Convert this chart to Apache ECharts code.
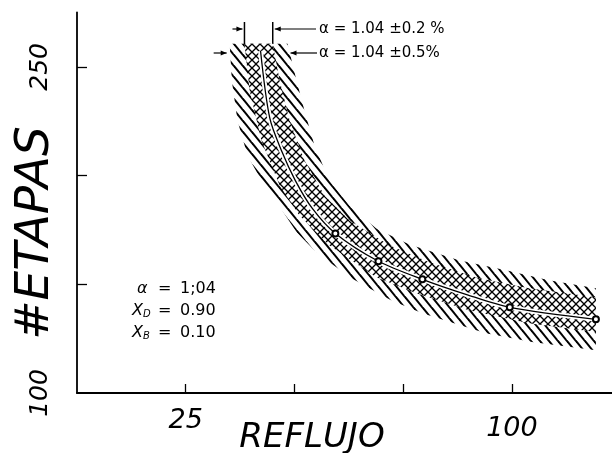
<!DOCTYPE html>
<html>
<head>
<meta charset="utf-8">
<script src="https://cdn.jsdelivr.net/npm/echarts@6/dist/echarts.min.js"></script>
<style>
  html, body { margin: 0; padding: 0; background: #fff; }
  #chart { width: 612px; height: 453px; }
</style>
</head>
<body>
<div id="chart"></div>
<script>
// Number of stages versus reflux for alpha = 1.04, xD = 0.90, xB = 0.10
const refluxValues = [42.2, 44.3, 47.0, 50.2, 54.1, 59.4, 69.3, 79.4, 89.4, 99.5, 119.3];
const stageValues  = [257.3, 226.6, 211.5, 197.7, 184.9, 173.4, 160.6, 152.3, 145.4, 139.4, 133.9];
// points drawn with a small open circle
const circledPoints = [false, false, false, false, false, true, true, true, false, true, true];

// band for alpha = 1.04 +/- 0.5 %  ([reflux, stages] along each edge)
const outerUpper = [[48.4, 260.6], [50.2, 245.9], [52.3, 229.8], [54.6, 213.8], [58.0, 197.7], [62.6, 186.2],
                    [68.8, 175.7], [76.4, 168.3], [87.8, 161.0], [98.6, 156.4], [108.5, 151.8], [119.3, 148.2]];
const outerLower = [[35.1, 260.6], [35.6, 243.6], [36.9, 225.2], [39.2, 209.2], [42.4, 197.7], [46.1, 187.2],
                    [50.5, 173.9], [55.3, 164.2], [63.1, 152.8], [72.2, 142.7], [79.4, 136.7], [94.0, 127.5],
                    [104.6, 123.4], [119.3, 119.7]];
// band for alpha = 1.04 +/- 0.2 %
const innerUpper = [[45.0, 260.6], [46.6, 243.6], [48.9, 225.2], [52.3, 206.9], [56.9, 190.8], [62.6, 179.4],
                    [71.8, 167.9], [81.0, 160.1], [92.4, 152.8], [103.9, 148.2], [119.3, 144.0]];
const innerLower = [[38.5, 260.6], [39.7, 239.0], [42.4, 216.1], [46.6, 195.4], [51.1, 181.7], [58.0, 167.9],
                    [68.8, 153.2], [78.0, 145.9], [90.1, 138.1], [103.9, 132.1], [119.3, 128.0]];

const xTickValues = [25, 50, 75, 100];
const xLabelValues = [25, 100];
const yTickValues = [150, 200, 250];
const yLabelValues = [100, 250];

const bandLabels = ['α = 1.04 ±0.2 %', 'α = 1.04 ±0.5%'];
const paramLines = [['α', '', '1;04'], ['X', 'D', '0.90'], ['X', 'B', '0.10']];

const INK = '#000';
const HAND = '"DejaVu Sans", sans-serif';

// repeating hatch tiles: 'back' = "\" strokes, 'fwd' = "/" strokes
function hatchTile(w, h, lw, dirs, bg) {
  const c = document.createElement('canvas');
  c.width = w; c.height = h;
  const g = c.getContext('2d');
  if (bg) { g.fillStyle = bg; g.fillRect(0, 0, w, h); }
  g.strokeStyle = INK;
  g.lineWidth = lw;
  dirs.forEach(function (d) {
    [-w, 0, w].forEach(function (ox) {
      g.beginPath();
      if (d === 'back') { g.moveTo(ox - w, -h); g.lineTo(ox + 2 * w, 2 * h); }
      else { g.moveTo(ox - w, 2 * h); g.lineTo(ox + 2 * w, -h); }
      g.stroke();
    });
  });
  return c;
}
const outerTile = hatchTile(9, 11, 2, ['back']);
const innerTile = hatchTile(8, 8, 1.3, ['back', 'fwd'], '#fff');

function bandSeries(name, upper, lower, tile, z) {
  const edge = upper.concat(lower.slice().reverse());
  return {
    type: 'custom',
    name: name,
    coordinateSystem: 'cartesian2d',
    data: edge,
    encode: { x: 0, y: 1 },
    silent: true,
    z: z,
    renderItem: function (params, api) {
      if (params.dataIndex !== 0) return null;
      const pts = edge.map(function (p) { return api.coord(p); });
      return {
        type: 'polygon',
        shape: { points: pts },
        style: { fill: { image: tile, repeat: 'repeat' }, stroke: null }
      };
    }
  };
}

const curve = refluxValues.map(function (x, i) { return [x, stageValues[i]]; });

const chart = echarts.init(document.getElementById('chart'), null, { renderer: 'canvas' });

chart.setOption({
  animation: false,
  backgroundColor: '#fff',
  grid: { left: 77, right: 0, top: 12.5, bottom: 60, containLabel: false },
  xAxis: {
    type: 'value', min: 0, max: 123, interval: 25,
    splitLine: { show: false },
    axisLine: { show: true, onZero: false, lineStyle: { color: INK, width: 1.8 } },
    axisTick: { show: true, inside: true, length: 9, customValues: xTickValues, lineStyle: { color: INK, width: 1.3 } },
    axisLabel: {
      customValues: xLabelValues,
      margin: 14,
      color: INK, fontFamily: HAND, fontStyle: 'italic', fontSize: 27,
      formatter: function (v) { return v === 100 ? '{low|100}' : String(v); },
      rich: { low: { fontFamily: HAND, fontStyle: 'italic', fontSize: 27, color: INK, padding: [8, 0, 0, 0] } }
    }
  },
  yAxis: {
    type: 'value', min: 100, max: 275, interval: 50,
    splitLine: { show: false },
    axisLine: { show: true, onZero: false, lineStyle: { color: INK, width: 1.8 } },
    axisTick: { show: true, inside: true, length: 10, customValues: yTickValues, lineStyle: { color: INK, width: 1.3 } },
    axisLabel: {
      customValues: yLabelValues,
      rotate: 90, margin: 24,
      color: INK, fontFamily: HAND, fontStyle: 'italic', fontSize: 25,
      formatter: function (v) { return String(v); }
    }
  },
  series: [
    bandSeries('±0.5 %', outerUpper, outerLower, outerTile, 1),
    bandSeries('±0.2 %', innerUpper, innerLower, innerTile, 2),
    {
      type: 'line', name: 'halo', data: curve, smooth: 0.3, symbol: 'none', silent: true, z: 3,
      lineStyle: { color: '#fff', width: 5 }
    },
    {
      type: 'line', name: 'α = 1.04', z: 4, smooth: 0.3, silent: true,
      data: curve.map(function (p, i) { return { value: p, symbol: circledPoints[i] ? 'emptyCircle' : 'none' }; }),
      symbolSize: 6, showAllSymbol: true,
      lineStyle: { color: INK, width: 1.3 },
      itemStyle: { color: INK, borderColor: INK, borderWidth: 1.2 }
    }
  ]
});

// annotations: band widths at the top, operating parameters, axis titles
const toPx = function (p) { return chart.convertToPixel({ gridIndex: 0 }, p); };
const inL = toPx(innerLower[0])[0], inU = toPx(innerUpper[0])[0];
const outL = toPx(outerLower[0])[0], outU = toPx(outerUpper[0])[0];

function seg(x1, y1, x2, y2, w) {
  return { type: 'line', shape: { x1: x1, y1: y1, x2: x2, y2: y2 }, style: { stroke: INK, lineWidth: w || 1.2 } };
}
function head(x, y, dir) { // small arrowhead, tip at (x, y), dir = +1 points right
  return { type: 'polygon', shape: { points: [[x, y], [x - dir * 6, y - 2.5], [x - dir * 6, y + 2.5]] }, style: { fill: INK } };
}

const yA = 29, yB = 53, textX = 319;
const elements = [
  // ±0.2 % band edges
  seg(inL, 22, inL, 44, 1.5), seg(inL - 12, yA, inL - 2, yA), head(inL - 2, yA, 1),
  seg(inU, 22, inU, 44, 1.5), seg(textX - 3, yA, inU + 2, yA), head(inU + 2, yA, -1),
  // ±0.5 % band edges
  seg(outL - 16, yB, outL - 3, yB), head(outL - 3, yB, 1),
  seg(textX - 2, yB, outU + 3, yB), head(outU + 3, yB, -1),
  { type: 'text', x: textX, y: yA, style: { text: bandLabels[0], fill: INK, font: '15px ' + HAND, verticalAlign: 'middle' } },
  { type: 'text', x: textX, y: yB, style: { text: bandLabels[1], fill: INK, font: '15px ' + HAND, verticalAlign: 'middle' } },
  // axis titles
  { type: 'text', x: 36, y: 233, rotation: Math.PI / 2,
    style: { text: '#ETAPAS', fill: INK, font: 'italic 47px ' + HAND, align: 'center', verticalAlign: 'middle' } },
  { type: 'text', x: 312, y: 438,
    style: { text: 'REFLUJO', fill: INK, font: 'italic 34px ' + HAND, align: 'center', verticalAlign: 'middle' } }
];
paramLines.forEach(function (ln, i) {
  const y = 289 + i * 22;
  elements.push({ type: 'text', x: ln[1] ? 132 : 137, y: y,
    style: { text: ln[1] ? '{x|' + ln[0] + '}{s|' + ln[1] + '}' : ln[0], fill: INK, font: 'italic 16px ' + HAND,
      verticalAlign: 'middle',
      rich: { x: { font: 'italic 16px ' + HAND, fill: INK }, s: { font: 'italic 10px ' + HAND, fill: INK, padding: [6, 0, 0, 0] } } } });
  elements.push({ type: 'text', x: 158, y: y, style: { text: '=', fill: INK, font: '16px ' + HAND, verticalAlign: 'middle' } });
  elements.push({ type: 'text', x: 180, y: y, style: { text: ln[2], fill: INK, font: '16px ' + HAND, verticalAlign: 'middle' } });
});

chart.setOption({ graphic: { elements: elements } });
</script>
</body>
</html>
